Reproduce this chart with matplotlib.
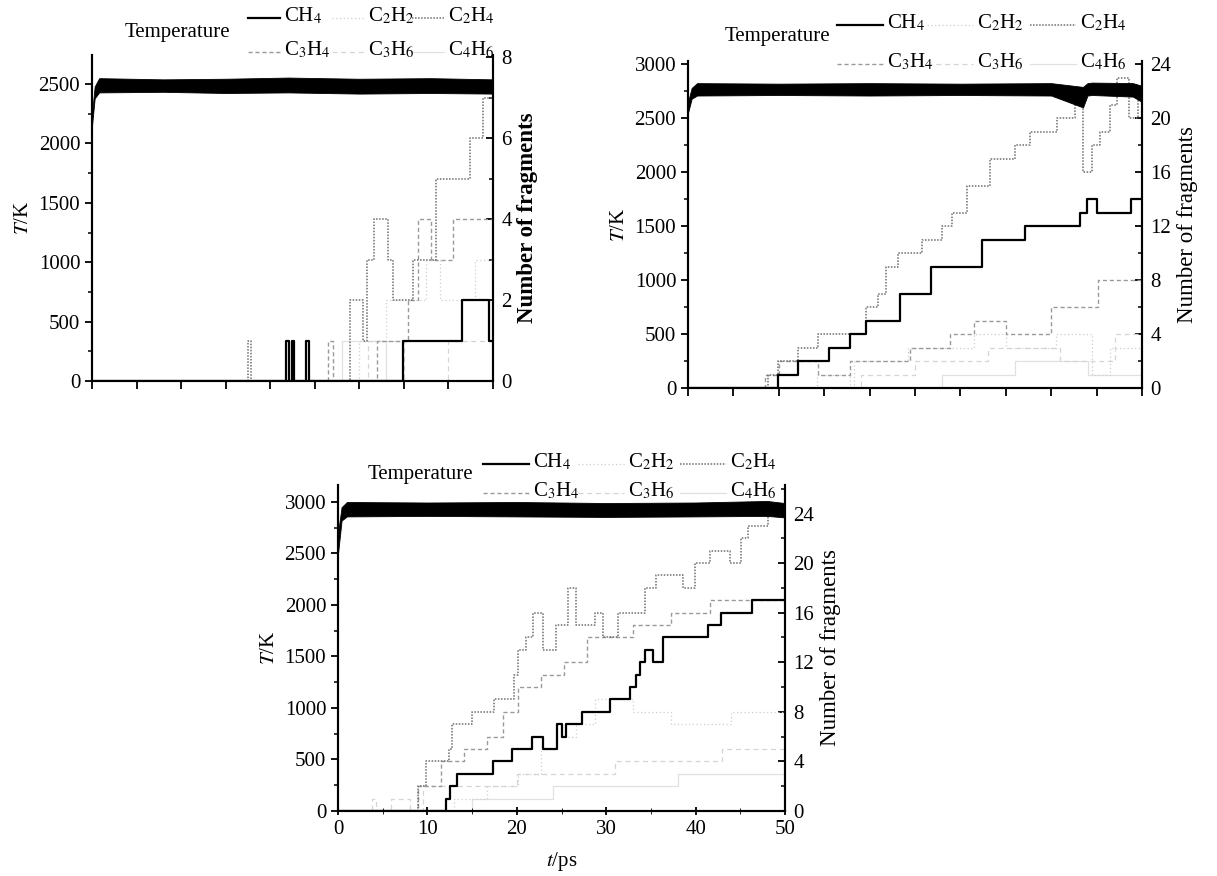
import matplotlib
matplotlib.use("Agg")
import matplotlib.pyplot as plt
from matplotlib.lines import Line2D
from matplotlib.ticker import MultipleLocator

plt.rcParams['font.family'] = ['Liberation Serif', 'DejaVu Serif']
plt.rcParams['mathtext.fontset'] = 'stix'

W, H = 1217, 876

names = ['CH4', 'C2H2', 'C2H4', 'C3H4', 'C3H6', 'C4H6']
labels = {'CH4': 'CH$_4$', 'C2H2': 'C$_2$H$_2$', 'C2H4': 'C$_2$H$_4$',
          'C3H4': 'C$_3$H$_4$', 'C3H6': 'C$_3$H$_6$', 'C4H6': 'C$_4$H$_6$'}

# ---- run 1 (2500 K) ----
r1_temp_t = [0, 0.3, 0.8, 8, 15, 22, 30, 38, 45]
r1_temp_lo = [2150, 2380, 2430, 2435, 2425, 2430, 2420, 2425, 2420]
r1_temp_hi = [2250, 2480, 2550, 2540, 2545, 2555, 2545, 2550, 2540]
r1_ch4_t = [0, 21.8, 22.1, 22.4, 22.7, 24.0, 24.3, 34.9, 41.5, 44.6]
r1_ch4_n = [0, 1, 0, 1, 0, 1, 0, 1, 2, 1]
r1_c2h4_t = [0, 17.5, 17.8, 29.0, 30.4, 30.9, 31.6, 33.2, 33.8, 36.0, 38.6, 42.4, 43.9]
r1_c2h4_n = [0, 1, 0, 2, 1, 3, 4, 3, 2, 3, 5, 6, 7]
r1_c3h4_t = [0, 26.5, 27.0, 32.0, 35.5, 36.6, 38.0, 40.5]
r1_c3h4_n = [0, 1, 0, 1, 2, 4, 3, 4]
r1_c2h2_t = [0, 30.0, 33.0, 37.5, 39.0, 43.0]
r1_c2h2_n = [0, 1, 2, 3, 2, 3]
r1_c3h6_t = [0, 31.0, 35.0, 40.0]
r1_c3h6_n = [0, 1, 0, 1]
r1_c4h6_t = [0, 28.0, 33.0]
r1_c4h6_n = [0, 1, 0]

# ---- run 2 (2750 K) ----
r2_temp_t = [0, 0.4, 1.0, 10, 20, 30, 40, 43.5, 44.0, 44.5, 49.0, 50]
r2_temp_lo = [2550, 2680, 2710, 2715, 2710, 2715, 2710, 2600, 2710, 2715, 2700, 2650]
r2_temp_hi = [2650, 2780, 2825, 2820, 2825, 2820, 2825, 2790, 2825, 2830, 2825, 2800]
r2_ch4_t = [0, 9.9, 12.1, 15.5, 17.8, 19.6, 23.3, 26.8, 32.4, 37.1, 43.2, 43.9, 45.0, 48.8]
r2_ch4_n = [0, 1, 2, 3, 4, 5, 7, 9, 11, 12, 13, 14, 13, 14]
r2_c2h4_t = [0, 8.8, 9.9, 12.1, 14.3, 19.6, 20.9, 21.8, 23.1, 25.8, 28.0, 29.1, 30.7,
             33.3, 36.0, 37.7, 40.6, 42.6, 43.5, 44.5, 45.4, 46.5, 47.3, 48.6, 49.6]
r2_c2h4_n = [0, 1, 2, 3, 4, 6, 7, 9, 10, 11, 12, 13, 15,
             17, 18, 19, 20, 21, 16, 18, 19, 21, 23, 20, 22]
r2_c3h4_t = [0, 8.5, 10.0, 14.3, 17.8, 24.5, 28.9, 31.5, 35.0, 40.0, 45.2]
r2_c3h4_n = [0, 1, 2, 1, 2, 3, 4, 5, 4, 6, 8]
r2_c2h2_t = [0, 14.2, 17.8, 18.3, 24.2, 31.5, 35.0, 40.5, 44.5, 46.5]
r2_c2h2_n = [0, 1, 0, 2, 3, 4, 3, 4, 1, 3]
r2_c3h6_t = [0, 19.0, 25.0, 33.0, 41.0, 47.0]
r2_c3h6_n = [0, 1, 2, 3, 2, 4]
r2_c4h6_t = [0, 28.0, 36.0, 44.0]
r2_c4h6_n = [0, 1, 2, 1]

# ---- run 3 (2930 K) ----
r3_temp_t = [0, 0.4, 1.0, 10, 20, 30, 40, 48, 50]
r3_temp_lo = [2500, 2820, 2860, 2865, 2860, 2855, 2860, 2865, 2850]
r3_temp_hi = [2700, 2950, 3000, 2995, 3000, 2990, 2995, 3010, 2990]
r3_ch4_t = [0, 12.1, 12.5, 13.3, 17.3, 19.5, 21.7, 22.9, 24.5, 25.0, 25.5,
            27.3, 30.4, 32.7, 33.3, 33.8, 34.3, 35.2, 36.4, 41.4, 42.8, 46.3]
r3_ch4_n = [0, 1, 2, 3, 4, 5, 6, 5, 7, 6, 7,
            8, 9, 10, 11, 12, 13, 12, 14, 15, 16, 17]
r3_c2h4_t = [0, 8.9, 9.8, 12.4, 12.8, 15.0, 17.5, 19.7, 20.1, 21.0, 21.8, 22.9, 24.4,
             25.7, 26.6, 28.7, 29.6, 31.3, 34.3, 35.6, 38.6, 39.9, 41.6, 43.8, 45.1, 45.9, 48.1]
r3_c2h4_n = [0, 2, 4, 5, 7, 8, 9, 11, 13, 14, 16, 13, 15,
             18, 15, 16, 14, 16, 18, 19, 18, 20, 21, 20, 22, 23, 24]
r3_c3h4_t = [0, 8.9, 11.5, 14.1, 16.7, 18.5, 20.1, 22.7, 25.3, 27.9, 33.0, 37.3, 41.6]
r3_c3h4_n = [0, 2, 4, 5, 6, 8, 10, 11, 12, 14, 15, 16, 17]
r3_c2h2_t = [0, 13.0, 16.7, 20.1, 22.7, 24.4, 26.6, 28.7, 33.0, 37.3, 44.0]
r3_c2h2_n = [0, 1, 2, 3, 5, 6, 7, 9, 8, 7, 8]
r3_c3h6_t = [0, 3.8, 4.3, 5.9, 8.1, 9.5, 20.0, 31.0, 43.0]
r3_c3h6_n = [0, 1, 0, 1, 0, 2, 3, 4, 5]
r3_c4h6_t = [0, 15.0, 24.0, 38.0]
r3_c4h6_n = [0, 1, 2, 3]

styles = {
    'CH4': dict(color='black', lw=1.6, ls='-'),
    'C2H2': dict(color='#cfcfcf', lw=0.9, ls=(0, (1, 2))),
    'C2H4': dict(color='#6e6e6e', lw=1.1, ls=(0, (1, 1))),
    'C3H4': dict(color='#9a9a9a', lw=1.0, ls=(0, (3, 2))),
    'C3H6': dict(color='#d5d5d5', lw=0.9, ls=(0, (4, 3))),
    'C4H6': dict(color='#e0e0e0', lw=0.9, ls='-'),
}
draw_order = ['C4H6', 'C3H6', 'C2H2', 'C3H4', 'C2H4', 'CH4']

fig = plt.figure(figsize=(W / 100, H / 100), dpi=100)


def frac(left, right, top, bottom):
    return [left / W, 1 - bottom / H, (right - left) / W, (bottom - top) / H]


def panel(box, xmax, tmax, fmax, fstep, temp, series, bold=False, xlab=False):
    ax = fig.add_axes(frac(*box))
    ax2 = ax.twinx()
    ax.set_zorder(ax2.get_zorder() + 1)
    ax.patch.set_visible(False)

    for key in draw_order:
        t, n = series[key]
        ax2.step(t + [xmax], n + [n[-1]], where='post', **styles[key])

    tt, lo, hi = temp
    ax.fill_between(tt, lo, hi, color='black', lw=0.6, edgecolor='black')

    ax.set_xlim(0, xmax)
    ax.set_ylim(0, tmax)
    ax2.set_ylim(0, fmax)
    ax.yaxis.set_major_locator(MultipleLocator(500))
    ax.yaxis.set_minor_locator(MultipleLocator(250))
    ax2.yaxis.set_major_locator(MultipleLocator(fstep))
    ax2.yaxis.set_minor_locator(MultipleLocator(fstep / 2))

    for a in (ax, ax2):
        a.spines['top'].set_visible(False)
        for s in a.spines.values():
            s.set_linewidth(1.5)
    ax.tick_params(axis='y', direction='out', labelsize=15, width=1.3, length=5)
    ax.tick_params(axis='y', which='minor', direction='out', width=1.1, length=3)
    ax2.tick_params(axis='y', direction='in', labelsize=15, width=1.3, length=5, pad=6)
    ax2.tick_params(axis='y', which='minor', direction='in', width=1.1, length=3)

    if xlab:
        ax.xaxis.set_major_locator(MultipleLocator(10))
        ax.xaxis.set_minor_locator(MultipleLocator(5))
        ax.tick_params(axis='x', direction='inout', labelsize=15, width=1.3, length=6)
        ax.tick_params(axis='x', which='minor', direction='inout', length=4)
        ax.set_xlabel('$t$/ps', fontsize=15, labelpad=8)
    else:
        ax.xaxis.set_major_locator(MultipleLocator(5))
        ax.tick_params(axis='x', direction='out', labelbottom=False, width=1.3, length=6)

    ax.set_ylabel('$T$/K', fontsize=15, labelpad=4)
    ax2.set_ylabel('Number of fragments', fontsize=16.5,
                   fontweight='bold' if bold else 'normal', labelpad=4)
    return ax


def key(text_x, rows, temp_xy, sample=46):
    # two rows of three entries, sample line drawn left of each name
    grid = [['CH4', 'C2H2', 'C2H4'], ['C3H4', 'C3H6', 'C4H6']]
    for r, y in enumerate(rows):
        for c, x in enumerate(text_x):
            k = grid[r][c]
            st = styles[k]
            yy = 1 - (y + 2) / H
            fig.add_artist(Line2D([(x - 4 - sample) / W, (x - 4) / W], [yy, yy],
                                  color=st['color'], lw=st['lw'], ls=st['ls']))
            fig.text(x / W, 1 - y / H, labels[k], fontsize=15,
                     ha='left', va='center')
    fig.text(temp_xy[0] / W, 1 - temp_xy[1] / H, 'Temperature', fontsize=15,
             ha='center', va='center')


s1 = {'CH4': (r1_ch4_t, r1_ch4_n), 'C2H2': (r1_c2h2_t, r1_c2h2_n),
      'C2H4': (r1_c2h4_t, r1_c2h4_n), 'C3H4': (r1_c3h4_t, r1_c3h4_n),
      'C3H6': (r1_c3h6_t, r1_c3h6_n), 'C4H6': (r1_c4h6_t, r1_c4h6_n)}
s2 = {'CH4': (r2_ch4_t, r2_ch4_n), 'C2H2': (r2_c2h2_t, r2_c2h2_n),
      'C2H4': (r2_c2h4_t, r2_c2h4_n), 'C3H4': (r2_c3h4_t, r2_c3h4_n),
      'C3H6': (r2_c3h6_t, r2_c3h6_n), 'C4H6': (r2_c4h6_t, r2_c4h6_n)}
s3 = {'CH4': (r3_ch4_t, r3_ch4_n), 'C2H2': (r3_c2h2_t, r3_c2h2_n),
      'C2H4': (r3_c2h4_t, r3_c2h4_n), 'C3H4': (r3_c3h4_t, r3_c3h4_n),
      'C3H6': (r3_c3h6_t, r3_c3h6_n), 'C4H6': (r3_c4h6_t, r3_c4h6_n)}

panel((92, 493, 55, 381), 45, 2745, 8.05, 2,
      (r1_temp_t, r1_temp_lo, r1_temp_hi), s1, bold=True)
panel((688, 1142, 61, 388), 50, 3030, 24.25, 4,
      (r2_temp_t, r2_temp_lo, r2_temp_hi), s2)
panel((338, 785, 485, 811), 50, 3165, 26.3, 4,
      (r3_temp_t, r3_temp_lo, r3_temp_hi), s3, xlab=True)

key([284, 368, 448], [16, 50], (177, 33), sample=32)
key([887, 977, 1080], [23, 62], (777, 37))
key([533, 628, 730], [462, 491], (420, 474))

fig.savefig('out.png', dpi=100, facecolor='white')
